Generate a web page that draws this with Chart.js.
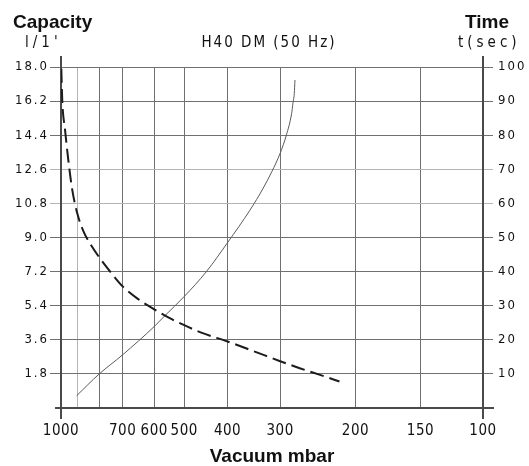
<!DOCTYPE html>
<html>
<head>
<meta charset="UTF-8">
<title>H40 DM (50 Hz)</title>
<script src="https://cdn.jsdelivr.net/npm/chart.js"></script>
<style>
  html, body { margin: 0; padding: 0; background: #fff; }
  #wrap { width: 529px; height: 466px; }
</style>
</head>
<body>
<div id="wrap"><canvas id="myChart"></canvas></div>
<script>
// vacuum axis (mbar): grid lines and the ones that carry a label
const pressureGrid = [1000, 900, 800, 700, 600, 500, 400, 300, 200, 150, 100];
const pressureLabels = [1000, 700, 600, 500, 400, 300, 200, 150, 100];
const capacityTicks = [0, 1.8, 3.6, 5.4, 7.2, 9.0, 10.8, 12.6, 14.4, 16.2, 18.0];
const timeTicks = [0, 10, 20, 30, 40, 50, 60, 70, 80, 90, 100];

// capacity l/1' (dashed, left axis)
const capacityPressure = [998, 992, 975, 955, 931, 900, 873, 837, 800, 739, 700, 650, 600, 546, 500, 458, 400, 346, 300, 270, 243, 218];
const capacityValue = [17.9, 16.2, 14.7, 13.1, 11.5, 10.2, 9.35, 8.6, 7.95, 7.0, 6.42, 5.76, 5.21, 4.74, 4.37, 3.98, 3.51, 2.99, 2.47, 2.1, 1.76, 1.4];

// time t(sec) (solid, right axis)
const timePressure = [906, 800, 700, 600, 562, 500, 446, 400, 354, 329, 314, 300, 290, 282, 280, 278, 277];
const timeValue = [3.6, 10.0, 15.6, 23.9, 27.1, 32.7, 40.0, 48.5, 58.0, 64.5, 69.3, 74.7, 80.1, 86.4, 89.4, 92.3, 96.2];

const NARROW = '"Liberation Sans Narrow", "DejaVu Sans Condensed", sans-serif';
const BOLD = 'bold 19px "Liberation Sans", Arial, sans-serif';
const GRID = '#707070';
const GRID_LIGHT = '#b4b4b4';
const AXIS = '#4a4a4a';

// the printed vacuum scale is nearly logarithmic but not quite:
// where each grid line sits along the axis (0 = 1000 mbar, 1 = 100 mbar)
const gridStops = [0, 0.0395, 0.0907, 0.1461, 0.2209, 0.2920, 0.3947, 0.5193, 0.6978, 0.8518, 1];

function vacuumDecimal(p) {
  const g = pressureGrid;
  let i = 0;
  while (i < g.length - 2 && p < g[i + 1]) i++;
  const f = Math.log(g[i] / p) / Math.log(g[i] / g[i + 1]);
  return gridStops[i] + f * (gridStops[i + 1] - gridStops[i]);
}

function vacuumValue(d) {
  const g = pressureGrid;
  let i = 0;
  while (i < g.length - 2 && d > gridStops[i + 1]) i++;
  const f = (d - gridStops[i]) / (gridStops[i + 1] - gridStops[i]);
  return g[i] * Math.pow(g[i + 1] / g[i], f);
}

function spaced(ctx, spacing, fn) {
  ctx.save();
  ctx.letterSpacing = spacing;
  fn();
  ctx.restore();
}

class VacuumScale extends Chart.LinearScale {
  static id = 'vacuum';
  getPixelForValue(value) {
    return this.getPixelForDecimal(vacuumDecimal(value));
  }
  getValueForPixel(pixel) {
    return vacuumValue(this.getDecimalForPixel(pixel));
  }
  drawLabels(area) {
    spaced(this.ctx, '0.5px', () => super.drawLabels(area));
  }
}

class SpacedLinear extends Chart.LinearScale {
  static id = 'spacedLinear';
  drawLabels(area) {
    spaced(this.ctx, '2px', () => super.drawLabels(area));
  }
}

Chart.register(VacuumScale, SpacedLinear);

const framePlugin = {
  id: 'frame',
  beforeDatasetsDraw(chart) {
    const { ctx, scales: { x, y } } = chart;
    const left = x.getPixelForValue(1000);
    const right = x.getPixelForValue(100);
    const top = y.getPixelForValue(18);
    const bottom = y.getPixelForValue(0);
    ctx.save();
    ctx.strokeStyle = AXIS;
    ctx.lineWidth = 2;
    ctx.beginPath();
    ctx.moveTo(left, top - 11); ctx.lineTo(left, bottom + 11);
    ctx.moveTo(right, top - 11); ctx.lineTo(right, bottom + 11);
    ctx.moveTo(left - 6, bottom); ctx.lineTo(right + 11, bottom);
    ctx.stroke();
    ctx.restore();
  },
  afterDraw(chart) {
    const { ctx, chartArea } = chart;
    const mid = (chartArea.left + chartArea.right) / 2;
    ctx.save();
    ctx.fillStyle = '#111';
    ctx.textBaseline = 'alphabetic';

    ctx.font = BOLD;
    ctx.textAlign = 'left';
    ctx.fillText('Capacity', 13, 28);
    ctx.textAlign = 'right';
    ctx.fillText('Time', 509, 28);
    ctx.textAlign = 'center';
    ctx.fillText('Vacuum mbar', mid, 462);

    ctx.font = '15px ' + NARROW;
    ctx.letterSpacing = '4px';
    ctx.textAlign = 'left';
    ctx.fillText("l/1'", 25, 47);
    ctx.fillText('t(sec)', 458, 47);
    ctx.letterSpacing = '2px';
    ctx.textAlign = 'center';
    ctx.fillText('H40 DM (50 Hz)', mid - 3, 47);
    ctx.restore();
  }
};

const toPoints = (xs, ys) => xs.map((p, i) => ({ x: p, y: ys[i] }));

const config = {
  type: 'line',
  data: {
    datasets: [{
      label: "Capacity l/1'",
      data: toPoints(capacityPressure, capacityValue),
      yAxisID: 'y',
      borderColor: '#1c1c1c',
      borderWidth: 2,
      borderDash: [14, 6],
      pointRadius: 0,
      cubicInterpolationMode: 'monotone',
      fill: false
    }, {
      label: 'Time t(sec)',
      data: toPoints(timePressure, timeValue),
      yAxisID: 'y1',
      borderColor: '#5a5a5a',
      borderWidth: 1,
      pointRadius: 0,
      cubicInterpolationMode: 'monotone',
      fill: false
    }]
  },
  options: {
    responsive: true,
    maintainAspectRatio: false,
    animation: false,
    layout: { padding: { top: 67, left: 0, right: 0, bottom: 0 } },
    plugins: {
      legend: { display: false },
      tooltip: { enabled: false },
      title: { display: false }
    },
    scales: {
      x: {
        type: 'vacuum',
        position: 'bottom',
        min: 100,
        max: 1000,
        afterBuildTicks: s => { s.ticks = pressureGrid.map(v => ({ value: v })); },
        afterFit: s => { s.height = 58; },
        border: { display: false },
        grid: {
          drawTicks: false,
          lineWidth: 1,
          color: c => {
            const v = c.tick && c.tick.value;
            if (v === 1000 || v === 100) return 'rgba(0,0,0,0)';
            return v === 900 ? GRID_LIGHT : GRID;
          }
        },
        ticks: {
          autoSkip: false,
          maxRotation: 0,
          padding: 14,
          color: '#111',
          font: { family: NARROW, size: 15 },
          callback: v => pressureLabels.includes(v) ? String(v) : ''
        }
      },
      y: {
        type: 'spacedLinear',
        position: 'left',
        min: 0,
        max: 18,
        afterBuildTicks: s => { s.ticks = capacityTicks.map(v => ({ value: v })); },
        afterFit: s => { s.width = 61; },
        border: { display: false },
        grid: {
          lineWidth: 1,
          tickLength: 11,
          color: c => {
            const v = c.tick && c.tick.value;
            if (v === 0) return 'rgba(0,0,0,0)';
            return (v === 12.6 || v === 10.8) ? GRID_LIGHT : GRID;
          }
        },
        ticks: {
          padding: 1,
          color: '#111',
          font: { family: NARROW, size: 13 },
          callback: v => v === 0 ? '' : v.toFixed(1)
        }
      },
      y1: {
        type: 'spacedLinear',
        position: 'right',
        min: 0,
        max: 100,
        afterBuildTicks: s => { s.ticks = timeTicks.map(v => ({ value: v })); },
        afterFit: s => { s.width = 46; },
        border: { display: false },
        grid: {
          drawOnChartArea: false,
          lineWidth: 1,
          tickLength: 10,
          color: c => {
            const v = c.tick && c.tick.value;
            if (v === 0) return 'rgba(0,0,0,0)';
            return (v === 70 || v === 60) ? GRID_LIGHT : GRID;
          }
        },
        ticks: {
          padding: 5,
          color: '#111',
          font: { family: NARROW, size: 13 },
          callback: v => v === 0 ? '' : String(v)
        }
      }
    }
  },
  plugins: [framePlugin]
};

const myChart = new Chart(document.getElementById('myChart'), config);
</script>
</body>
</html>
